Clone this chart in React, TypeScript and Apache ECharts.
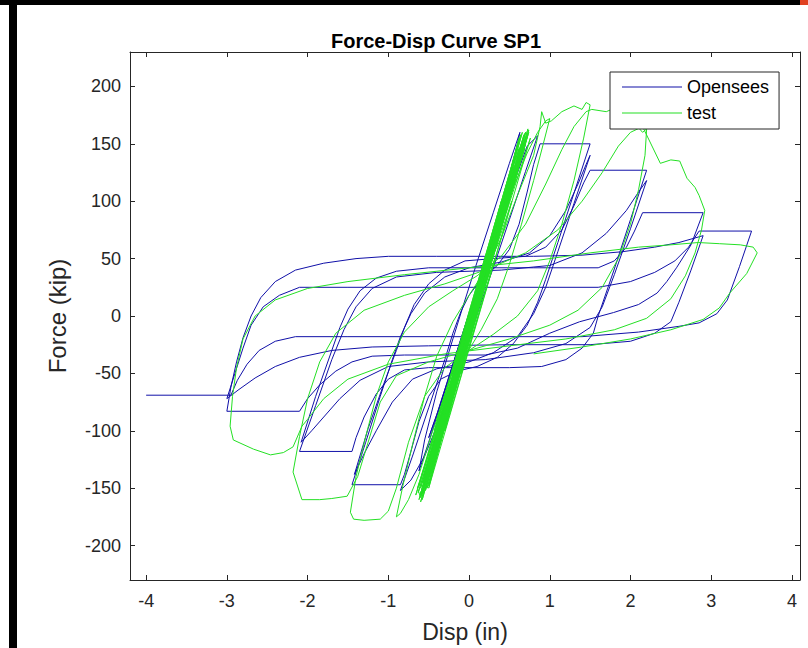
import React, { useEffect, useRef } from "react";
import * as echarts from "echarts";

const xTicks = [-4, -3, -2, -1, 0, 1, 2, 3, 4];
const yTicks = [-200, -150, -100, -50, 0, 50, 100, 150, 200];

// Opensees model response [disp (in), force (kip)]
const opensees: number[][] = [
  [0, 0], [0.12, 26], [0.25, 55], [0.15, 33], [0, 2], [-0.12, -24], [-0.25, -54], [-0.15, -32], [0, -2],
  [0.2, 45], [0.4, 88], [0.5, 108], [0.38, 83], [0.2, 45], [0, 2], [-0.2, -42], [-0.4, -86], [-0.5, -106], [-0.38, -82], [-0.2, -42], [0, -4],
  [0.2, 44], [0.4, 95], [0.52, 128], [0.6, 150], [0.63, 160],
  [0.5, 133], [0.3, 90], [0.1, 47], [-0.05, 14], [-0.2, -20], [-0.4, -66], [-0.55, -108], [-0.62, -135],
  [-0.5, -110], [-0.3, -66], [-0.12, -28], [0, -5], [0.15, 25], [0.35, 68], [0.55, 115], [0.72, 148], [0.85, 157],
  [0.7, 126], [0.5, 84], [0.3, 42], [0.15, 12], [0, -20], [-0.15, -48], [-0.35, -88], [-0.55, -122], [-0.72, -143], [-0.85, -152],
  [-0.7, -122], [-0.5, -80], [-0.3, -38], [-0.2, -15], [-0.1, 4], [0, 18], [0.15, 32], [0.35, 44], [0.5, 58], [0.62, 80], [0.72, 108], [0.8, 132], [0.88, 150], [1.5, 150],
  [1.3, 107], [1.1, 64], [0.95, 32], [0.85, 12], [0.72, -8], [0.55, -24], [0.35, -36], [0.1, -44], [-0.15, -48], [-0.35, -55], [-0.5, -70], [-0.62, -92], [-0.72, -118], [-0.8, -138], [-0.85, -147], [-1.45, -147],
  [-1.28, -110], [-1.1, -70], [-0.95, -38], [-0.85, -18], [-0.72, 2], [-0.55, 20], [-0.3, 34], [0, 42], [0.4, 47], [0.75, 55], [1.0, 70], [1.2, 92], [1.35, 115], [1.45, 132], [1.5, 140],
  [1.3, 98], [1.1, 56], [0.95, 25], [0.8, 2], [0.6, -18], [0.3, -32], [0, -40], [-0.4, -46], [-0.7, -55], [-0.95, -75], [-1.15, -100], [-1.3, -120], [-1.42, -138],
  [-1.25, -98], [-1.05, -58], [-0.9, -30], [-0.8, -10], [-0.68, 10], [-0.5, 28], [-0.3, 40], [-0.05, 48], [0.3, 50], [0.7, 52], [0.95, 60], [1.15, 75], [1.3, 96], [1.42, 116], [1.5, 127], [2.2, 127],
  [2.0, 84], [1.8, 41], [1.6, 0], [1.54, -15], [1.4, -28], [1.2, -38], [0.9, -44], [0.5, -45], [0, -45], [-0.5, -45], [-0.8, -47], [-1.0, -55], [-1.15, -68], [-1.3, -88], [-1.4, -106], [-1.45, -118], [-2.1, -118],
  [-1.9, -78], [-1.7, -38], [-1.55, -12], [-1.4, 8], [-1.2, 24], [-0.9, 34], [-0.4, 38], [0.4, 40], [1.0, 44], [1.4, 55], [1.7, 72], [1.95, 92], [2.1, 108], [2.2, 118],
  [2.0, 76], [1.8, 36], [1.65, 8], [1.5, -10], [1.2, -24], [0.8, -32], [0.2, -38], [-0.5, -40], [-1.0, -44], [-1.35, -56], [-1.6, -72], [-1.8, -88], [-1.95, -100], [-2.08, -110],
  [-1.9, -70], [-1.7, -30], [-1.6, -10], [-1.5, 6], [-1.35, 22], [-1.15, 33], [-0.9, 39], [-0.5, 42], [0, 42], [0.8, 42], [1.6, 42], [1.8, 48], [1.95, 60], [2.05, 74], [2.15, 90], [2.9, 90],
  [2.75, 62], [2.57, 42], [2.45, 30], [2.33, 20], [2.1, 10], [1.79, 3], [1.37, -5], [1.0, -15], [0.6, -28], [0.2, -34], [-0.8, -34], [-1.2, -35], [-1.45, -40], [-1.65, -48], [-1.85, -60], [-2.0, -72], [-2.1, -83], [-3.0, -83],
  [-2.95, -62], [-2.88, -40], [-2.8, -19], [-2.7, 0], [-2.58, 16], [-2.4, 30], [-2.15, 40], [-1.8, 46], [-1.4, 50], [-1.0, 52], [-0.4, 52], [0.2, 52], [0.8, 52], [1.4, 53], [1.9, 56], [2.3, 60], [2.6, 64], [2.8, 68], [2.9, 70],
  [2.75, 40], [2.6, 12], [2.5, -5], [2.3, -15], [2.0, -22], [1.5, -25], [0.5, -25], [-0.5, -26], [-1.2, -27], [-1.7, -30], [-2.1, -36], [-2.4, -44], [-2.65, -54], [-2.85, -64], [-3.0, -72],
  [-2.9, -50], [-2.8, -28], [-2.7, -8], [-2.55, 8], [-2.35, 18], [-2.1, 25], [-1.5, 25], [0, 25], [1.0, 25], [1.6, 25], [2.0, 30], [2.3, 38], [2.55, 48], [2.72, 60], [2.85, 74], [3.5, 74],
  [3.35, 43], [3.2, 14], [3.07, 2], [2.85, -6], [2.6, -9], [2.1, -14], [1.4, -18], [0, -18], [-1.5, -18], [-2.15, -18],
  [-2.4, -22], [-2.6, -30], [-2.75, -42], [-2.87, -56], [-2.95, -69], [-4.0, -69],
];

// Test measurements [disp (in), force (kip)]
const test: number[][] = [
  [0, 0], [0.1, 22], [0.2, 46], [0.12, 20], [0.02, -6], [-0.1, -32], [-0.2, -56], [-0.1, -26], [0, -2],
  [0.15, 34], [0.3, 70], [0.2, 42], [0.05, 4], [-0.1, -34], [-0.3, -80], [-0.18, -48], [-0.05, -14], [0.05, 10],
  [0.2, 48], [0.4, 96], [0.28, 62], [0.1, 16], [-0.1, -36], [-0.3, -84], [-0.4, -106], [-0.28, -74], [-0.1, -30], [0.05, 6],
  [0.25, 58], [0.45, 108], [0.52, 122], [0.4, 90], [0.2, 40], [0, -10], [-0.2, -60], [-0.4, -110], [-0.5, -132], [-0.38, -100], [-0.18, -50], [0, -6],
  [0.25, 58], [0.5, 120], [0.62, 146], [0.5, 114], [0.3, 62], [0.1, 14], [-0.1, -38], [-0.3, -88], [-0.5, -134], [-0.6, -155], [-0.48, -125], [-0.25, -70], [0, -10],
  [0.3, 68], [0.55, 132], [0.7, 160], [0.58, 130], [0.35, 72], [0.1, 12], [-0.15, -50], [-0.4, -112], [-0.6, -158],
  [-0.64, -150], [0.76, 155], [-0.5, -150], [0.62, 155], [-0.6, -158], [0.7, 160], [-0.55, -145], [0.66, 152], [-0.5, -140], [0.74, 162],
  [-0.66, -156], [0.6, 148], [-0.43, -100], [0.53, 100], [-0.3, -100], [0.4, 100], [-0.2, -50], [0.32, 50], [-0.1, -50], [0.2, 50],
  [-0.36, -95], [0.5, 108], [-0.52, -130], [0.68, 150], [-0.62, -148], [0.58, 140], [-0.48, -138], [0.72, 156], [-0.58, -160], [0.64, 158],
  [-0.5, -148], [0.7, 152], [-0.62, -160], [0.66, 160], [-0.46, -120], [0.6, 125], [-0.38, -110], [0.48, 118], [-0.28, -70], [0.38, 80],
  [-0.15, -40], [0.26, 40], [-0.52, -150], [0.74, 160], [-0.56, -140], [0.64, 146], [-0.6, -150], [0.7, 156],
  [-0.58, -155], [0.68, 158], [-0.54, -152], [0.72, 158], [-0.63, -154], [0.66, 150], [-0.5, -135], [0.62, 140], [-0.44, -124], [0.56, 130],
  [-0.4, -112], [0.5, 112], [-0.34, -96], [0.44, 100], [-0.3, -84], [0.4, 88], [-0.22, -62], [0.34, 64], [-0.18, -48], [0.3, 56],
  [-0.6, -162], [0.73, 163], [-0.57, -145], [0.69, 146],
  [-0.4, -90], [0.45, 92], [-0.26, -80], [0.55, 130], [-0.45, -128], [0.7, 150], [-0.6, -155],
  [-0.45, -118], [-0.3, -80], [-0.15, -40], [0, -5], [0.15, 28], [0.35, 70], [0.55, 112], [0.72, 142], [0.85, 160], [0.95, 170], [1.0, 172],
  [0.92, 150], [0.8, 118], [0.65, 80], [0.5, 45], [0.35, 15], [0.15, -12], [-0.05, -35], [-0.25, -62], [-0.45, -100], [-0.62, -138], [-0.75, -160], [-0.85, -172], [-0.9, -175],
  [-0.82, -148], [-0.7, -112], [-0.55, -70], [-0.4, -35], [-0.2, -5], [0, 18], [0.2, 40], [0.4, 68], [0.6, 105], [0.8, 140], [0.88, 165], [0.9, 178], [0.95, 168], [1.02, 170],
  [1.15, 178], [1.3, 183], [1.4, 180], [1.45, 186], [1.5, 184],
  [1.42, 155], [1.3, 118], [1.15, 80], [1.0, 48], [0.85, 22], [0.6, 0], [0.3, -16], [0, -30], [-0.3, -45], [-0.55, -70], [-0.75, -110], [-0.9, -150], [-1.0, -170], [-1.1, -177], [-1.3, -178], [-1.43, -177], [-1.47, -171],
  [-1.4, -140], [-1.28, -105], [-1.15, -70], [-1.0, -40], [-0.8, -14], [-0.5, 8], [-0.2, 22], [0.1, 35], [0.4, 52], [0.7, 80], [0.95, 115], [1.15, 145], [1.3, 165], [1.45, 178], [1.52, 180],
  [1.7, 178], [1.8, 181], [1.9, 172], [2.05, 168], [2.15, 160], [2.2, 163],
  [2.18, 140], [2.1, 110], [2.0, 80], [1.85, 50], [1.65, 25], [1.35, 5], [1.0, -8], [0.5, -20], [0, -30], [-0.5, -40], [-0.9, -52], [-1.1, -75], [-1.25, -110], [-1.38, -140], [-1.51, -157], [-1.7, -159], [-1.85, -160], [-2.07, -160], [-2.18, -136],
  [-2.1, -105], [-2.0, -72], [-1.85, -40], [-1.65, -15], [-1.3, 5], [-0.8, 18], [-0.3, 28], [0.2, 40], [0.7, 55], [1.1, 75], [1.4, 100], [1.65, 125], [1.85, 148], [2.0, 160], [2.15, 165],
  [2.37, 133], [2.5, 136], [2.61, 135], [2.7, 120], [2.8, 112], [2.85, 105], [2.92, 92],
  [2.88, 75], [2.8, 55], [2.68, 35], [2.5, 15], [2.2, -2], [1.8, -12], [1.2, -20], [0.5, -26], [-0.3, -33], [-1.0, -42], [-1.5, -55], [-1.8, -72], [-2.0, -90], [-2.07, -96], [-2.18, -114], [-2.3, -119], [-2.46, -121], [-2.67, -116], [-2.92, -108], [-2.96, -96],
  [-2.93, -70], [-2.88, -45], [-2.8, -20], [-2.65, 0], [-2.4, 14], [-2.0, 24], [-1.5, 30], [-0.8, 36], [0, 42], [0.8, 48], [1.5, 55], [2.1, 60], [2.5, 62], [2.84, 64],
  [3.1, 63], [3.36, 62], [3.52, 60], [3.57, 55], [3.44, 37], [3.23, 20], [3.1, 7],
  [2.9, -3], [2.5, -12], [2.0, -20], [1.4, -27], [0.8, -33],
];

const FONT = "'Liberation Sans', Arial, Helvetica, sans-serif";
const TXT = "#262626";
const BLUE = "#1010a8";
const GREEN = "#24e024";

export default function App() {
  const ref = useRef<HTMLDivElement>(null);
  useEffect(() => {
    if (!ref.current) return;
    const chart = echarts.init(ref.current, undefined, { renderer: "svg" });
    const axisLine = { show: true, onZero: false, lineStyle: { color: TXT, width: 1 } };
    chart.setOption({
      animation: false,
      backgroundColor: "#fff",
      textStyle: { fontFamily: FONT },
      title: {
        text: "Force-Disp Curve SP1",
        left: 431,
        top: 26,
        textAlign: "center",
        textStyle: { fontFamily: FONT, fontSize: 20, fontWeight: "bold", color: "#000" },
      },
      grid: { left: 130, right: 8, top: 52, bottom: 67, containLabel: false },
      legend: {
        data: ["Opensees", "test"],
        left: 610,
        top: 72,
        orient: "vertical",
        icon: "rect",
        itemWidth: 60,
        itemHeight: 1,
        itemGap: 8,
        padding: [6, 10, 7, 12],
        borderColor: TXT,
        borderWidth: 1,
        backgroundColor: "#fff",
        textStyle: { fontFamily: FONT, fontSize: 18, color: "#000" },
      },
      xAxis: [
        {
          type: "value",
          min: -4.2,
          max: 4.1,
          position: "bottom",
          axisLine,
          splitLine: { show: false },
          axisTick: { show: true, inside: true, length: 5, customValues: xTicks, lineStyle: { color: TXT } },
          axisLabel: { customValues: xTicks, fontSize: 18, color: TXT, fontFamily: FONT, margin: 12 },
          name: "Disp (in)",
          nameLocation: "middle",
          nameGap: 40,
          nameTextStyle: { fontSize: 23, color: TXT, fontFamily: FONT },
        },
        {
          type: "value",
          min: -4.2,
          max: 4.1,
          position: "top",
          axisLine,
          splitLine: { show: false },
          axisTick: { show: true, inside: true, length: 5, customValues: xTicks, lineStyle: { color: TXT } },
          axisLabel: { show: false },
        },
      ],
      yAxis: [
        {
          type: "value",
          min: -230,
          max: 230,
          position: "left",
          axisLine,
          splitLine: { show: false },
          axisTick: { show: true, inside: true, length: 5, customValues: yTicks, lineStyle: { color: TXT } },
          axisLabel: { customValues: yTicks, fontSize: 18, color: TXT, fontFamily: FONT, margin: 9 },
          name: "Force (kip)",
          nameLocation: "middle",
          nameGap: 61,
          nameTextStyle: { fontSize: 24, color: TXT, fontFamily: FONT },
        },
        {
          type: "value",
          min: -230,
          max: 230,
          position: "right",
          axisLine,
          splitLine: { show: false },
          axisTick: { show: true, inside: true, length: 5, customValues: yTicks, lineStyle: { color: TXT } },
          axisLabel: { show: false },
        },
      ],
      series: [
        {
          name: "Opensees",
          type: "line",
          data: opensees,
          xAxisIndex: 0,
          yAxisIndex: 0,
          symbol: "none",
          showSymbol: false,
          lineStyle: { color: BLUE, width: 1 },
          itemStyle: { color: BLUE },
          z: 2,
        },
        {
          name: "test",
          type: "line",
          data: test,
          xAxisIndex: 0,
          yAxisIndex: 0,
          symbol: "none",
          showSymbol: false,
          lineStyle: { color: GREEN, width: 1 },
          itemStyle: { color: GREEN },
          z: 3,
        },
      ],
      graphic: [
        { type: "rect", shape: { x: 0, y: 0, width: 800, height: 5 }, style: { fill: "#000" }, z: 100 },
        { type: "rect", shape: { x: 9, y: 0, width: 8, height: 648 }, style: { fill: "#000" }, z: 100 },
        { type: "rect", shape: { x: 800, y: 0, width: 8, height: 5 }, style: { fill: "#e04020" }, z: 100 },
      ],
    });
    return () => chart.dispose();
  }, []);
  return (
    <div
      ref={ref}
      style={{ position: "fixed", left: 0, top: 0, width: 808, height: 648 }}
    />
  );
}
